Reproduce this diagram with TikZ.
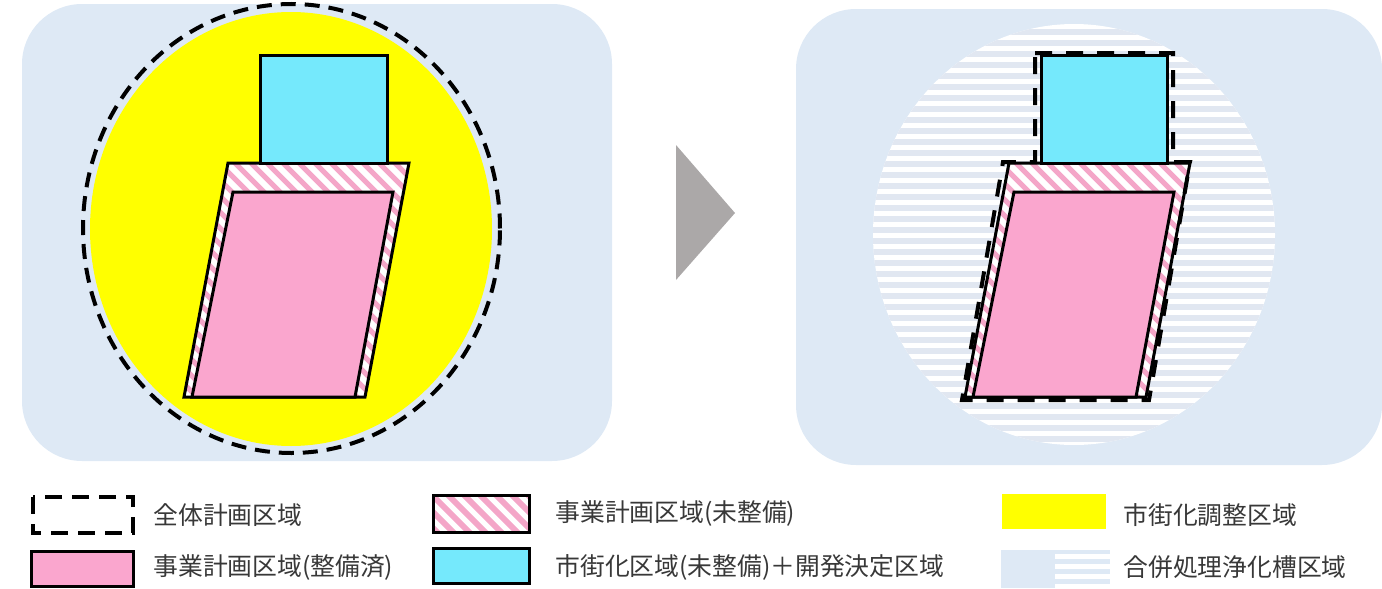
\documentclass[tikz,border=0pt]{standalone}
\usepackage{fontspec}
\newfontfamily\jp{Noto Sans CJK JP}
\definecolor{panel}{HTML}{DEE9F5}
\definecolor{pinkfill}{HTML}{FAA6CE}
\definecolor{hatchpink}{HTML}{F4A6C8}
\definecolor{cyanfill}{HTML}{75E9FC}
\definecolor{yel}{HTML}{FFFF00}
\definecolor{arrowgray}{HTML}{ABA8A8}
\definecolor{stripe}{HTML}{E1E7F1}
\definecolor{txt}{HTML}{383838}
\tikzset{
  outline/.style={draw=black, line width=1.5pt, line join=miter},
  dashline/.style={draw=black, line width=2pt, dash pattern=on 8.5pt off 7pt},
  label/.style={anchor=west, inner sep=0pt, text=txt, font=\jp\fontsize{12.4pt}{14pt}\selectfont},
}
\begin{document}
\begin{tikzpicture}[x=0.5pt,y=-0.5pt]
\useasboundingbox (0,0) rectangle (1382,589);

% ---------- left panel ----------
\fill[panel, rounded corners=30pt] (22,4) rectangle (612,461);
\fill[yel] (291,229) ellipse [x radius=100.5pt, y radius=108.5pt];
\draw[draw=black, line width=2pt, dash pattern=on 7.5pt off 4.5pt] (291.5,228.5) ellipse [x radius=104.25pt, y radius=112.25pt];

% hatched outer parallelogram
\begin{scope}
  \clip (228,163) -- (409,163) -- (365,397) -- (184,397) -- cycle;
  \fill[white] (150,150) rectangle (450,420);
  \foreach \i in {-320,-304,...,320} \draw[hatchpink, line width=2.6pt] (228+\i,140) -- ++(300,300);
\end{scope}
\draw[outline] (228,163) -- (409,163) -- (365,397) -- (184,397) -- cycle;
\fill[pinkfill] (233,192) -- (393,192) -- (355,397) -- (192,397) -- cycle;
\draw[outline] (233,192) -- (393,192) -- (355,397) -- (192,397) -- cycle;
\fill[cyanfill] (260,55) rectangle (387,163);
\draw[outline] (260,55) rectangle (387,163);

% ---------- arrow ----------
\fill[arrowgray] (676,145) -- (735,213) -- (676,280) -- cycle;

% ---------- right panel ----------
\fill[panel, rounded corners=30pt] (796,9) rectangle (1382,465);
\begin{scope}
  \clip (1074,234.5) ellipse [x radius=100.5pt, y radius=105.25pt];
  \fill[white] (860,15) rectangle (1290,455);
  \foreach \y in {29,40,...,450} \fill[stripe] (860,\y) rectangle (1290,\y+6);
\end{scope}
\begin{scope}
  \clip (1009,163) -- (1190,163) -- (1146,397) -- (965,397) -- cycle;
  \fill[white] (940,150) rectangle (1210,420);
  \foreach \i in {-320,-304,...,320} \draw[hatchpink, line width=2.6pt] (1009+\i,140) -- ++(300,300);
\end{scope}
\draw[outline] (1009,163) -- (1190,163) -- (1146,397) -- (965,397) -- cycle;
\fill[pinkfill] (1014,192) -- (1174,192) -- (1136,397) -- (973,397) -- cycle;
\draw[outline] (1014,192) -- (1174,192) -- (1136,397) -- (973,397) -- cycle;
\fill[cyanfill] (1041,55) rectangle (1167,163);
\draw[outline] (1041,55) rectangle (1167,163);
\draw[dashline] (1035,53) -- (1173,53) -- (1173,162) -- (1190,162) -- (1149,400) -- (962,400) -- (1003,162) -- (1035,162) -- cycle;

% ---------- legend ----------
\draw[draw=black, line width=1.8pt, dash pattern=on 8.5pt off 5pt] (33,497) rectangle (133,533);
\node[label] (l1) at (153,515) {全体計画区域};

\fill[pinkfill] (31,551) rectangle (133,586);
\draw[outline] (31,551) rectangle (133,586);
\node[label] (l2) at (153,567) {事業計画区域(整備済)};

\begin{scope}
  \clip (433,495) rectangle (529,532);
  \fill[white] (433,495) rectangle (529,532);
  \foreach \i in {-80,-64,...,120} \draw[hatchpink, line width=3pt] (433+\i,480) -- ++(80,80);
\end{scope}
\draw[outline] (433,495) rectangle (529,532);
\node[label] (l3) at (555,513) {事業計画区域(未整備)};

\fill[cyanfill] (433,548) rectangle (529,583);
\draw[outline] (433,548) rectangle (529,583);
\node[label] (l4) at (555,567) {市街化区域(未整備)＋開発決定区域};

\fill[yel] (1002,494) rectangle (1106,529);
\node[label] (l5) at (1123,515) {市街化調整区域};

\fill[panel] (1001,550) rectangle (1110,588);
\foreach \y in {554,564,574,584} \fill[white] (1055,\y) rectangle (1110,\y+5);
\node[label] (l6) at (1123,567) {合併処理浄化槽区域};
\end{tikzpicture}
\end{document}
